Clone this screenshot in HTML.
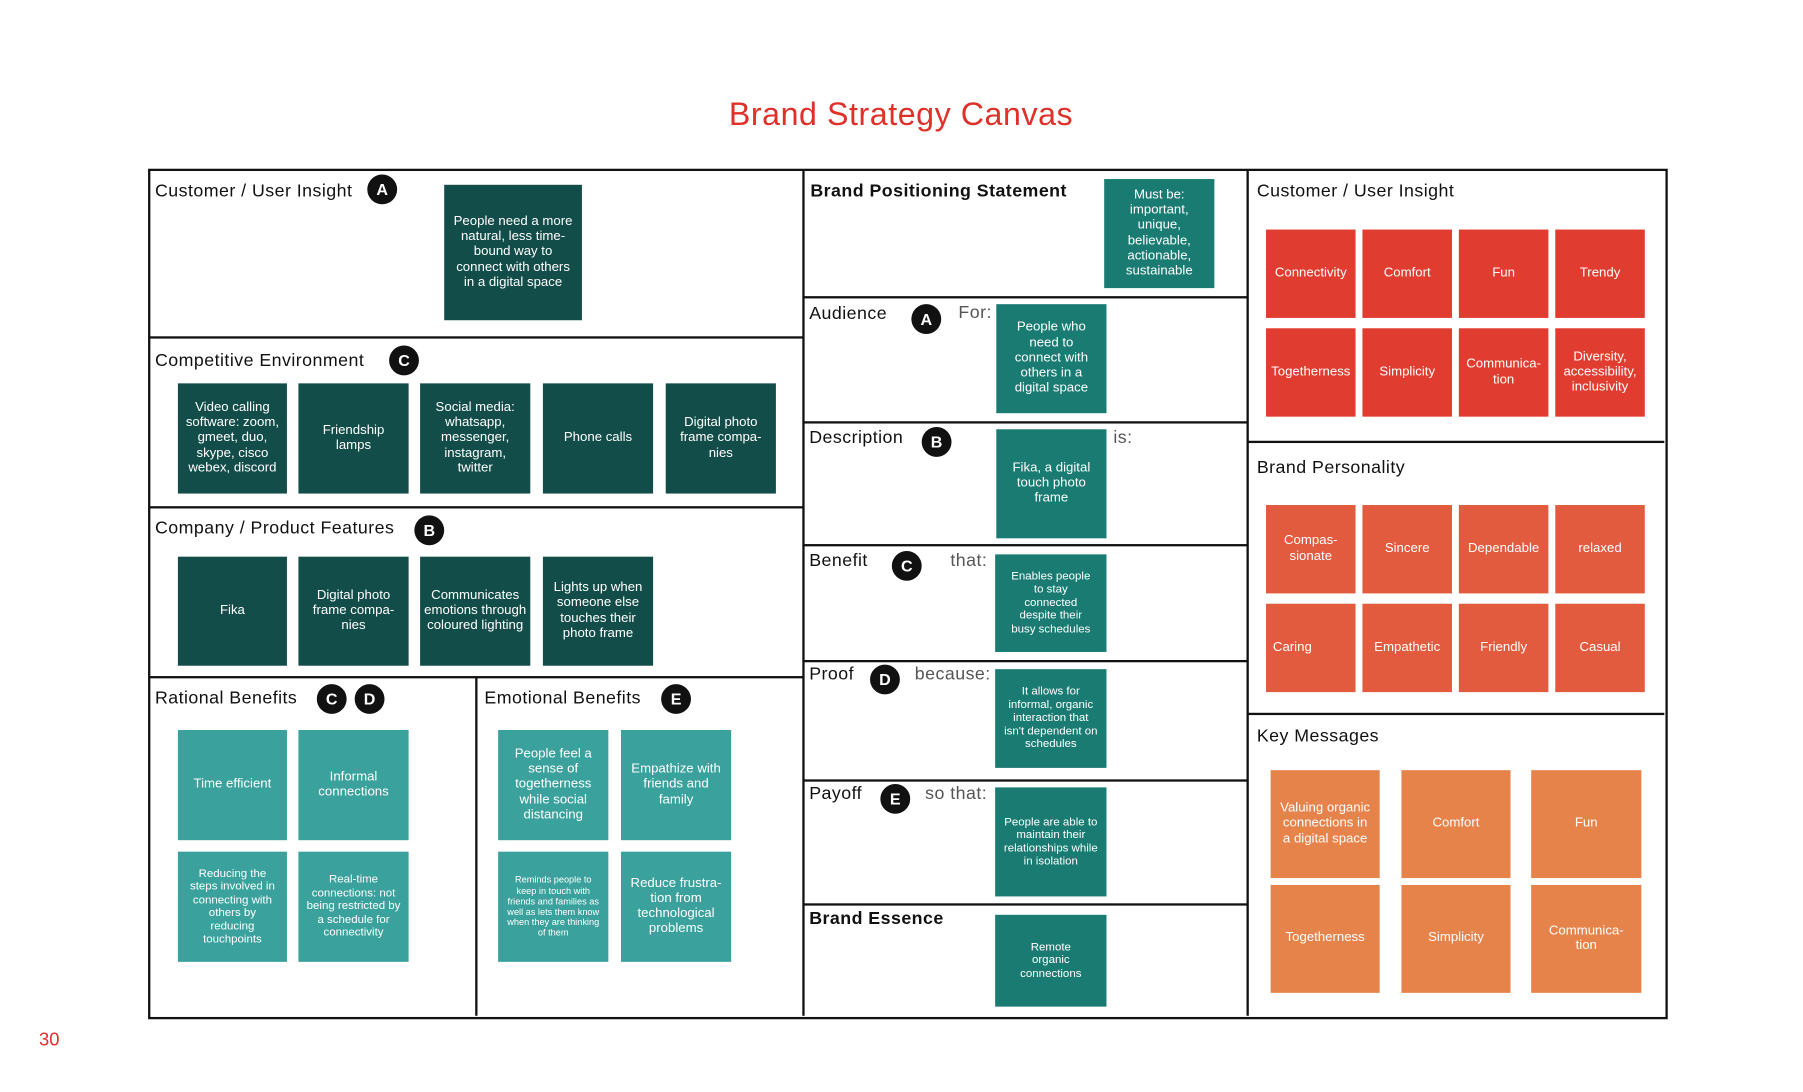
<!DOCTYPE html>
<html><head><meta charset="utf-8"><style>
body{margin:0;background:#fff;width:1803px;height:1092px;overflow:hidden}
#w{position:absolute;left:0;top:0;width:1570px;height:951px;transform:scale(1.1478);transform-origin:0 0;font-family:"Liberation Sans",sans-serif}
.a{position:absolute}
.l{position:absolute;background:#111}
.t{position:absolute;font-size:15.5px;letter-spacing:0.4px;color:#111;white-space:nowrap}
.b{position:absolute;display:flex;align-items:center;justify-content:center;text-align:center;color:#fff;font-size:11.5px;line-height:1.15;padding:0 7px;box-sizing:border-box}
.d{background:#134d4a}.m{background:#197b72}.lt{background:#3aa19c}.r{background:#e03c2f}.p{background:#e25b3f}.o{background:#e6834b}
.c{position:absolute;width:26px;height:26px;border-radius:50%;background:#111;color:#fff;font-weight:bold;font-size:14px;display:flex;align-items:center;justify-content:center}
</style></head><body><div id="w">
<div class="a" style="left:0;width:1570px;top:84px;text-align:center;font-size:28px;letter-spacing:0.5px;color:#e0302a">Brand Strategy Canvas</div>
<div class="a" style="left:34px;top:898px;font-size:16px;color:#e0302a">30</div>
<div class="a" style="left:129px;top:147px;width:1320px;height:737px;border:2px solid #111"></div>
<div class="l" style="left:699px;top:148px;width:2px;height:737px"></div>
<div class="l" style="left:1086px;top:148px;width:2px;height:737px"></div>
<div class="l" style="left:414px;top:590px;width:2px;height:295px"></div>
<div class="l" style="left:130px;top:293px;width:570px;height:2px"></div>
<div class="l" style="left:130px;top:441px;width:570px;height:2px"></div>
<div class="l" style="left:130px;top:589px;width:570px;height:2px"></div>
<div class="l" style="left:700px;top:258px;width:387px;height:2px"></div>
<div class="l" style="left:700px;top:367px;width:387px;height:2px"></div>
<div class="l" style="left:700px;top:474px;width:387px;height:2px"></div>
<div class="l" style="left:700px;top:575px;width:387px;height:2px"></div>
<div class="l" style="left:700px;top:679px;width:387px;height:2px"></div>
<div class="l" style="left:700px;top:787px;width:387px;height:2px"></div>
<div class="l" style="left:1087px;top:384px;width:363px;height:2px"></div>
<div class="l" style="left:1087px;top:621px;width:363px;height:2px"></div>

<div class="t" style="left:135px;top:158px">Customer / User Insight</div><div class="c" style="left:320px;top:152px">A</div>
<div class="b d" style="left:387px;top:161px;width:120px;height:118px">People need a more natural, less time-bound way to connect with others in a digital space</div>
<div class="t" style="left:135px;top:306px">Competitive Environment</div><div class="c" style="left:339px;top:301px">C</div>
<div class="b d" style="left:155px;top:334px;width:95px;height:96px;padding:0 4px">Video calling software: zoom, gmeet, duo, skype, cisco webex, discord</div>
<div class="b d" style="left:260px;top:334px;width:96px;height:96px;padding:0 18px">Friendship lamps</div>
<div class="b d" style="left:366px;top:334px;width:96px;height:96px;padding:0 12px">Social media: whatsapp, messenger, instagram, twitter</div>
<div class="b d" style="left:473px;top:334px;width:96px;height:96px">Phone calls</div>
<div class="b d" style="left:580px;top:334px;width:96px;height:96px">Digital photo frame compa-nies</div>
<div class="t" style="left:135px;top:452px">Company / Product Features</div><div class="c" style="left:361px;top:449px">B</div>
<div class="b d" style="left:155px;top:485px;width:95px;height:95px">Fika</div>
<div class="b d" style="left:260px;top:485px;width:96px;height:95px">Digital photo frame compa-nies</div>
<div class="b d" style="left:366px;top:485px;width:96px;height:95px;padding:0 3px">Communicates emotions through coloured lighting</div>
<div class="b d" style="left:473px;top:485px;width:96px;height:95px">Lights up when someone else touches their photo frame</div>
<div class="t" style="left:135px;top:600px">Rational Benefits</div><div class="c" style="left:276px;top:596px">C</div><div class="c" style="left:309px;top:596px">D</div>
<div class="b lt" style="left:155px;top:636px;width:95px;height:96px">Time efficient</div>
<div class="b lt" style="left:260px;top:636px;width:96px;height:96px">Informal connections</div>
<div class="b lt" style="left:155px;top:742px;width:95px;height:96px;font-size:10px">Reducing the steps involved in connecting with others by reducing touchpoints</div>
<div class="b lt" style="left:260px;top:742px;width:96px;height:96px;font-size:10px">Real-time connections: not being restricted by a schedule for connectivity</div>
<div class="t" style="left:422px;top:600px">Emotional Benefits</div><div class="c" style="left:576px;top:596px">E</div>
<div class="b lt" style="left:434px;top:636px;width:96px;height:96px;padding:0 10px">People feel a sense of togetherness while social distancing</div>
<div class="b lt" style="left:541px;top:636px;width:96px;height:96px">Empathize with friends and family</div>
<div class="b lt" style="left:434px;top:742px;width:96px;height:96px;font-size:8px">Reminds people to keep in touch with friends and families as well as lets them know when they are thinking of them</div>
<div class="b lt" style="left:541px;top:742px;width:96px;height:96px">Reduce frustra-tion from technological problems</div>

<div class="t" style="left:706px;top:158px;font-weight:bold">Brand Positioning Statement</div>
<div class="b m" style="left:962px;top:156px;width:96px;height:95px">Must be: important, unique, believable, actionable, sustainable</div>
<div class="t" style="left:705px;top:265px">Audience</div><div class="c" style="left:794px;top:265px">A</div><div class="t" style="left:835px;top:264px;color:#555">For:</div>
<div class="b m" style="left:868px;top:265px;width:96px;height:95px;padding:0 10px">People who need to connect with others in a digital space</div>
<div class="t" style="left:705px;top:373px">Description</div><div class="c" style="left:803px;top:372px">B</div><div class="t" style="left:970px;top:373px;color:#555">is:</div>
<div class="b m" style="left:868px;top:374px;width:96px;height:95px">Fika, a digital touch photo frame</div>
<div class="t" style="left:705px;top:480px">Benefit</div><div class="c" style="left:777px;top:480px">C</div><div class="t" style="left:828px;top:480px;color:#555">that:</div>
<div class="b m" style="left:867px;top:483px;width:97px;height:85px;font-size:10px;padding:0 12px">Enables people to stay connected despite their busy schedules</div>
<div class="t" style="left:705px;top:579px">Proof</div><div class="c" style="left:758px;top:579px">D</div><div class="t" style="left:797px;top:579px;color:#555">because:</div>
<div class="b m" style="left:867px;top:583px;width:97px;height:86px;font-size:10px">It allows for informal, organic interaction that isn't dependent on schedules</div>
<div class="t" style="left:705px;top:683px">Payoff</div><div class="c" style="left:767px;top:683px">E</div><div class="t" style="left:806px;top:683px;color:#555">so that:</div>
<div class="b m" style="left:867px;top:686px;width:97px;height:95px;font-size:10px">People are able to maintain their relationships while in isolation</div>
<div class="t" style="left:705px;top:792px;font-weight:bold">Brand Essence</div>
<div class="b m" style="left:867px;top:797px;width:97px;height:80px;font-size:10px;padding:0 14px">Remote organic connections</div>

<div class="t" style="left:1095px;top:158px">Customer / User Insight</div>
<div class="b r" style="left:1103px;top:200px;width:78px;height:77px;padding:0">Connectivity</div>
<div class="b r" style="left:1187px;top:200px;width:78px;height:77px">Comfort</div>
<div class="b r" style="left:1271px;top:200px;width:78px;height:77px">Fun</div>
<div class="b r" style="left:1355px;top:200px;width:78px;height:77px">Trendy</div>
<div class="b r" style="left:1103px;top:286px;width:78px;height:77px;padding:0">Togetherness</div>
<div class="b r" style="left:1187px;top:286px;width:78px;height:77px">Simplicity</div>
<div class="b r" style="left:1271px;top:286px;width:78px;height:77px;padding:0 2px">Communica-tion</div>
<div class="b r" style="left:1355px;top:286px;width:78px;height:77px;padding:0 2px">Diversity, accessibility, inclusivity</div>
<div class="t" style="left:1095px;top:399px">Brand Personality</div>
<div class="b p" style="left:1103px;top:440px;width:78px;height:77px">Compas-sionate</div>
<div class="b p" style="left:1187px;top:440px;width:78px;height:77px">Sincere</div>
<div class="b p" style="left:1271px;top:440px;width:78px;height:77px;padding:0">Dependable</div>
<div class="b p" style="left:1355px;top:440px;width:78px;height:77px">relaxed</div>
<div class="b p" style="left:1103px;top:526px;width:78px;height:77px;justify-content:flex-start;padding-left:6px">Caring</div>
<div class="b p" style="left:1187px;top:526px;width:78px;height:77px;padding:0">Empathetic</div>
<div class="b p" style="left:1271px;top:526px;width:78px;height:77px">Friendly</div>
<div class="b p" style="left:1355px;top:526px;width:78px;height:77px">Casual</div>
<div class="t" style="left:1095px;top:633px">Key Messages</div>
<div class="b o" style="left:1107px;top:671px;width:95px;height:94px">Valuing organic connections in a digital space</div>
<div class="b o" style="left:1221px;top:671px;width:95px;height:94px">Comfort</div>
<div class="b o" style="left:1334px;top:671px;width:96px;height:94px">Fun</div>
<div class="b o" style="left:1107px;top:771px;width:95px;height:94px">Togetherness</div>
<div class="b o" style="left:1221px;top:771px;width:95px;height:94px">Simplicity</div>
<div class="b o" style="left:1334px;top:771px;width:96px;height:94px;padding:0 12px">Communica-tion</div>
</div></body></html>
